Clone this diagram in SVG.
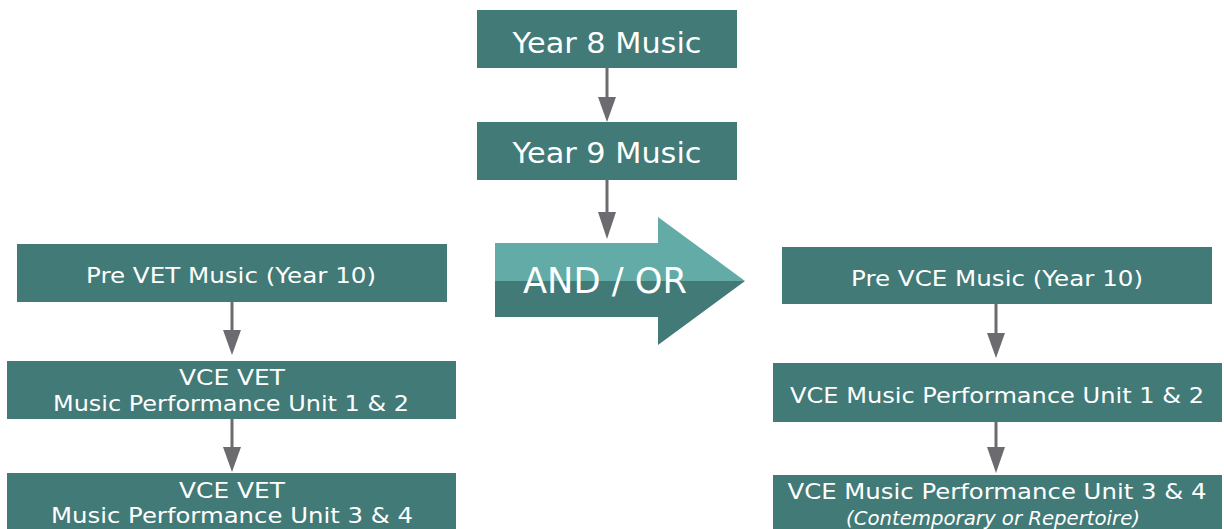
<svg xmlns="http://www.w3.org/2000/svg" width="1224" height="529" viewBox="0 0 1224 529">
<defs>
<style>
.box{fill:#417a77}
.t{fill:#ffffff;font-family:"DejaVu Sans","Liberation Sans",sans-serif;text-anchor:middle}
.conn line{stroke:#6c6c70;stroke-width:3}
.conn polygon{fill:#6c6c70}
</style>
</defs>
<rect width="1224" height="529" fill="#ffffff"/>
<g id="year8"><rect class="box" x="477" y="10" width="260" height="58"/><text class="t" x="607" y="53" font-size="28" textLength="189" lengthAdjust="spacingAndGlyphs">Year 8 Music</text></g>
<g id="year9"><rect class="box" x="477" y="122" width="260" height="58"/><text class="t" x="607" y="163" font-size="28" textLength="189" lengthAdjust="spacingAndGlyphs">Year 9 Music</text></g>
<g id="andor">
<polygon points="495,243 658,243 658,217 745,281 495,281" fill="#62aba6"/>
<polygon points="495,281 745,281 658,345 658,317 495,317" fill="#417a77"/>
<text class="t" x="605" y="293" font-size="35" textLength="164" lengthAdjust="spacingAndGlyphs">AND / OR</text>
</g>
<g id="prevet"><rect class="box" x="17" y="244" width="430" height="58"/><text class="t" x="231" y="283" font-size="22" textLength="290" lengthAdjust="spacingAndGlyphs">Pre VET Music (Year 10)</text></g>
<g id="vet12"><rect class="box" x="7" y="361" width="449" height="58"/><text class="t" x="232" y="385" font-size="22" textLength="106" lengthAdjust="spacingAndGlyphs">VCE VET</text><text class="t" x="231" y="411" font-size="22" textLength="356" lengthAdjust="spacingAndGlyphs">Music Performance Unit 1 &amp; 2</text></g>
<g id="vet34"><rect class="box" x="7" y="473" width="449" height="56"/><text class="t" x="232" y="498" font-size="22" textLength="106" lengthAdjust="spacingAndGlyphs">VCE VET</text><text class="t" x="232" y="523" font-size="22" textLength="362" lengthAdjust="spacingAndGlyphs">Music Performance Unit 3 &amp; 4</text></g>
<g id="prevce"><rect class="box" x="782" y="247" width="430" height="57"/><text class="t" x="997" y="286" font-size="22" textLength="292" lengthAdjust="spacingAndGlyphs">Pre VCE Music (Year 10)</text></g>
<g id="vce12"><rect class="box" x="773" y="363" width="449" height="59"/><text class="t" x="997" y="403" font-size="22" textLength="414" lengthAdjust="spacingAndGlyphs">VCE Music Performance Unit 1 &amp; 2</text></g>
<g id="vce34"><rect class="box" x="773" y="475" width="449" height="54"/><text class="t" x="997" y="499" font-size="22" textLength="419" lengthAdjust="spacingAndGlyphs">VCE Music Performance Unit 3 &amp; 4</text><text class="t" x="993" y="525" font-size="19" font-style="italic" textLength="294" lengthAdjust="spacingAndGlyphs">(Contemporary or Repertoire)</text></g>
<g id="connectors" class="conn">
<line x1="607" y1="68" x2="607" y2="100"/><polygon points="598,97 616,97 607,122"/>
<line x1="607" y1="180" x2="607" y2="215"/><polygon points="598,212 616,212 607,239"/>
<line x1="232" y1="302" x2="232" y2="333"/><polygon points="223,330 241,330 232,355"/>
<line x1="232" y1="419" x2="232" y2="450"/><polygon points="223,447 241,447 232,472"/>
<line x1="996" y1="304" x2="996" y2="336"/><polygon points="987,333 1005,333 996,358"/>
<line x1="996" y1="422" x2="996" y2="450"/><polygon points="987,447 1005,447 996,473"/>
</g>
</svg>
